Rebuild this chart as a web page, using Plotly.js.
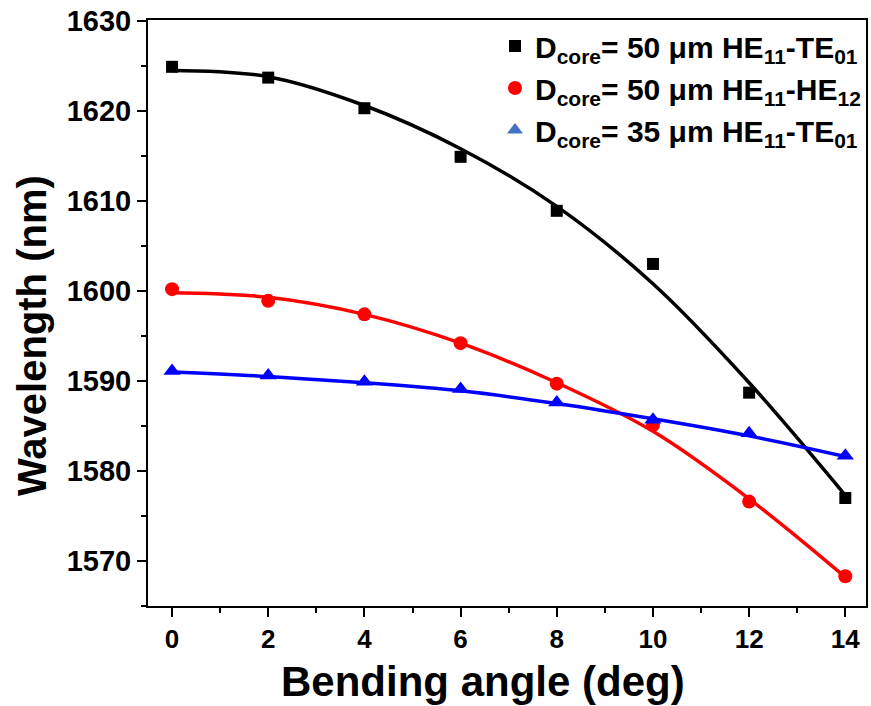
<!DOCTYPE html>
<html>
<head>
<meta charset="utf-8">
<script src="https://cdn.plot.ly/plotly-3.0.1.min.js"></script>
<style>html,body{margin:0;padding:0;background:#fff;}#chart{width:871px;height:706px;}</style>
</head>
<body>
<div id="chart"></div>
<script>
// Bending angle (deg)
const angles = [0, 2, 4, 6, 8, 10, 12, 14];
// Measured points
const black50TE = [1624.9, 1623.7, 1620.3, 1614.9, 1608.9, 1603.0, 1588.7, 1577.0];
const red50HE = [1600.2, 1598.9, 1597.4, 1594.2, 1589.7, 1585.1, 1576.6, 1568.3];
const blue35TE = [1591.1, 1590.6, 1589.9, 1589.1, 1587.6, 1585.7, 1584.2, 1581.7];
// Fitted curves (at the same angles)
const black50TEfit = [1624.5, 1623.8, 1620.6, 1615.8, 1609.4, 1600.8, 1589.8, 1577.3];
const red50HEfit = [1599.8, 1599.3, 1597.4, 1594.2, 1589.8, 1584.4, 1576.9, 1568.2];
const blue35TEfit = [1591.0, 1590.5, 1589.8, 1588.9, 1587.5, 1585.8, 1583.9, 1581.6];

const legendNames = [
  'D<sub>core</sub>= 50 μm HE<sub>11</sub>-TE<sub>01</sub>',
  'D<sub>core</sub>= 50 μm HE<sub>11</sub>-HE<sub>12</sub>',
  'D<sub>core</sub>= 35 μm HE<sub>11</sub>-TE<sub>01</sub>'
];
const yTicks = [1570, 1580, 1590, 1600, 1610, 1620, 1630];
const xTicks = [0, 2, 4, 6, 8, 10, 12, 14];
const xTitle = 'Bending angle (deg)';
const yTitle = 'Wavelength (nm)';

const FONT = 'Liberation Sans, Arial, sans-serif';

const traces = [
  {x: angles, y: black50TEfit, mode: 'lines', line: {color: '#000000', width: 3.5, shape: 'spline'}, showlegend: false, hoverinfo: 'skip'},
  {x: angles, y: red50HEfit, mode: 'lines', line: {color: '#ff0000', width: 3.5, shape: 'spline'}, showlegend: false, hoverinfo: 'skip'},
  {x: angles, y: blue35TEfit, mode: 'lines', line: {color: '#0000ff', width: 3.5, shape: 'spline'}, showlegend: false, hoverinfo: 'skip'},
  {x: angles, y: black50TE, mode: 'markers', marker: {symbol: 'square', color: '#000000', size: 12}, showlegend: false},
  {x: angles, y: red50HE, mode: 'markers', marker: {symbol: 'circle', color: '#ff0000', size: 14}, showlegend: false},
  {x: angles, y: blue35TE, mode: 'markers', marker: {symbol: 'triangle-up', color: '#0000ff', size: 15}, showlegend: false},
  // legend entries
  {x: [null], y: [null], mode: 'markers', name: legendNames[0], marker: {symbol: 'square', color: '#000000', size: 12}},
  {x: [null], y: [null], mode: 'markers', name: legendNames[1], marker: {symbol: 'circle', color: '#ff0000', size: 14}},
  {x: [null], y: [null], mode: 'markers', name: legendNames[2], marker: {symbol: 'triangle-up', color: '#4472c4', size: 14}}
];

const layout = {
  width: 871, height: 706,
  margin: {l: 148, r: 5, t: 20, b: 100},
  paper_bgcolor: '#ffffff', plot_bgcolor: '#ffffff',
  font: {family: FONT, color: '#000000'},
  showlegend: true,
  legend: {
    x: 1, xanchor: 'right', y: 1, yanchor: 'top',
    bgcolor: 'rgba(0,0,0,0)',
    font: {family: FONT, size: 30, weight: 'bold', color: '#000'},
    itemwidth: 30, tracegroupgap: 0
  },
  xaxis: {
    range: [-0.5, 14.43],
    tickvals: xTicks, ticktext: xTicks.map(String),
    ticks: 'outside', ticklen: 9, tickwidth: 2, tickcolor: '#000',
    minor: {dtick: 1, ticks: 'outside', ticklen: 5, tickwidth: 2, tickcolor: '#000'},
    showline: true, linewidth: 2, linecolor: '#000', mirror: true,
    showgrid: false, zeroline: false,
    tickfont: {family: FONT, size: 26, weight: 'bold'}
  },
  yaxis: {
    range: [1565, 1630.1],
    tickvals: yTicks, ticktext: yTicks.map(String),
    ticks: 'outside', ticklen: 9, tickwidth: 2, tickcolor: '#000',
    minor: {dtick: 5, tick0: 1565, ticks: 'outside', ticklen: 5, tickwidth: 2, tickcolor: '#000'},
    showline: true, linewidth: 2, linecolor: '#000', mirror: true,
    showgrid: false, zeroline: false,
    tickfont: {family: FONT, size: 29, weight: 'bold'}
  },
  annotations: [
    {text: xTitle, xref: 'paper', yref: 'paper', x: 0.4666, y: -0.128, xanchor: 'center', yanchor: 'middle',
     showarrow: false, font: {family: FONT, size: 42, weight: 'bold', color: '#000'}},
    {text: yTitle, xref: 'paper', yref: 'paper', x: -0.1616, y: 0.4625, xanchor: 'center', yanchor: 'middle',
     textangle: -90, showarrow: false, font: {family: FONT, size: 40, weight: 'bold', color: '#000'}}
  ]
};

Plotly.newPlot('chart', traces, layout, {displayModeBar: false, staticPlot: true});
</script>
</body>
</html>
